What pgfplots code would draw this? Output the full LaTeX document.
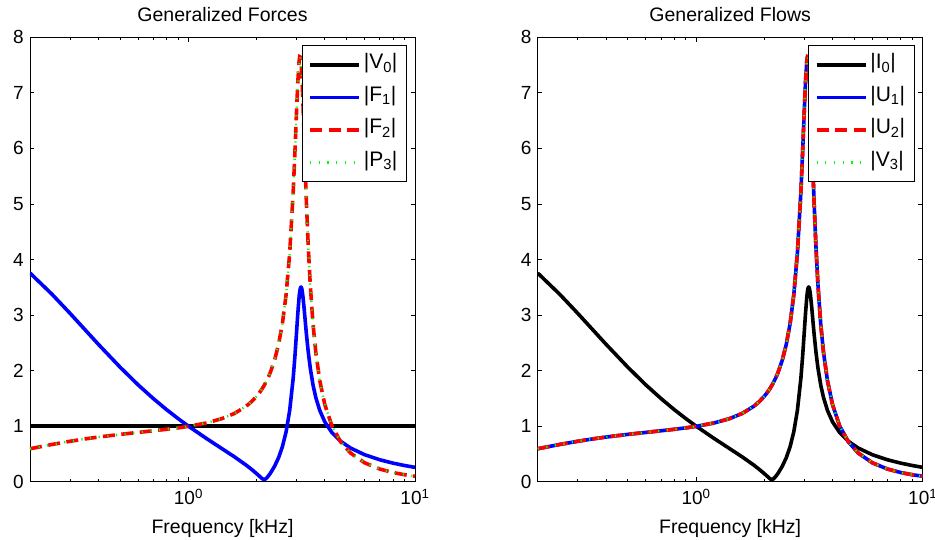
\documentclass[border=0pt]{standalone}
\usepackage{fontspec}
\setmainfont{Liberation Sans}
\usepackage{pgfplots}
\pgfplotsset{compat=1.18}
\usepackage{pgfplotstable}

\definecolor{mblue}{rgb}{0,0,1}
\definecolor{mred}{rgb}{1,0,0}
\definecolor{mgreen}{rgb}{0,1,0}

% f in kHz; F1 = |F1| = |I0|, F2 = |F2| = |P3| = |U1| = |U2| = |V3|
\pgfplotstableread{
f     F1     F2
0.20  3.756  0.593
0.25  3.375  0.670
0.30  3.033  0.727
0.35  2.735  0.770
0.40  2.476  0.803
0.50  2.060  0.852
0.60  1.743  0.887
0.70  1.497  0.917
0.80  1.299  0.943
0.90  1.137  0.969
1.00  1.000  0.996
1.20  0.779  1.057
1.40  0.600  1.133
1.60  0.445  1.230
1.80  0.297  1.360
1.90  0.222  1.441
2.00  0.145  1.538
2.05  0.106  1.593
2.10  0.067  1.653
2.13  0.048  1.693
2.16  0.039  1.734
2.19  0.049  1.778
2.22  0.072  1.826
2.26  0.109  1.893
2.30  0.152  1.968
2.40  0.277  2.187
2.50  0.432  2.471
2.60  0.632  2.850
2.70  0.902  3.373
2.80  1.288  4.121
2.90  1.861  5.212
2.95  2.242  5.906
3.00  2.678  6.652
3.04  3.030  7.198
3.08  3.323  7.570
3.10  3.424  7.650
3.12  3.486  7.644
3.14  3.506  7.553
3.16  3.486  7.383
3.18  3.429  7.149
3.20  3.345  6.868
3.24  3.126  6.232
3.28  2.882  5.586
3.32  2.646  4.990
3.38  2.336  4.231
3.45  2.045  3.540
3.55  1.737  2.827
3.65  1.515  2.328
3.80  1.282  1.818
4.00  1.077  1.388
4.30  0.884  1.004
4.70  0.727  0.717
5.20  0.605  0.514
6.00  0.485  0.339
7.00  0.394  0.227
8.00  0.334  0.165
9.00  0.291  0.125
10.0  0.258  0.099
}\resp

\pgfplotsset{
  matlab/.style={
    scale only axis, width=385pt, height=444.4pt,
    xmin=0.2, xmax=10, ymin=0, ymax=8,
    xtick={1,10}, xticklabels={10\textsuperscript{0},10\textsuperscript{1}},
    minor xtick={0.3,0.4,0.5,0.6,0.7,0.8,0.9,2,3,4,5,6,7,8,9},
    ytick={0,1,2,3,4,5,6,7,8}, minor ytick={},
    tick align=inside, xtick pos=both, ytick pos=both,
    major tick length=4.5pt, minor tick length=2.5pt,
    every tick/.style={black, line width=0.8pt},
    axis line style={line width=0.9pt},
    /pgf/number format/assume math mode=true,
    tick label style={font=\fontsize{19}{22}\selectfont},
    yticklabel style={inner sep=0pt, anchor=east, xshift=-6pt},
    xticklabel style={inner sep=0pt, anchor=north, yshift=-7pt},
    xlabel={Frequency [kHz]},
    xlabel style={font=\fontsize{19.5}{23}\selectfont, at={(axis description cs:0.5,0)}, anchor=base, yshift=-52pt},
    title style={font=\fontsize{19.5}{23}\selectfont, at={(axis description cs:0.5,1)}, anchor=base, yshift=9.3pt},
    legend cell align=left,
    legend style={
      at={(1,1)}, anchor=north east, xshift=-8pt, yshift=-8pt,
      draw=black, line width=1.2pt, fill=white,
      inner xsep=6pt, inner ysep=9pt,
      font=\fontsize{21}{25}\selectfont,
      row sep=12.5pt,
      nodes={inner xsep=3pt, inner ysep=0pt, text height=14pt, text depth=6pt},
    },
    legend image code/.code={\draw[##1] (0pt,0pt) -- (49pt,0pt);},
  },
  solidc/.style={line width=3.6pt, line join=round},
  dashc/.style={mred, line width=3.6pt, dash pattern=on 12pt off 6.5pt},
  dotc/.style={mgreen, line width=2.4pt, dash pattern=on 1.2pt off 7.5pt},
}

\begin{document}
\begin{tikzpicture}
\begin{semilogxaxis}[matlab, at={(30pt,58.3pt)}, anchor=south west, title={Generalized Forces}]
\addplot[black, solidc] coordinates {(0.2,1) (10,1)};
\addlegendentry{|V\textsubscript{0}|}
\addplot[mblue, solidc] table[x=f, y=F1] {\resp};
\addlegendentry{|F\textsubscript{1}|}
\addplot[dashc] table[x=f, y=F2] {\resp};
\addlegendentry{|F\textsubscript{2}|}
\addplot[dotc] table[x=f, y=F2] {\resp};
\addlegendentry{|P\textsubscript{3}|}
\end{semilogxaxis}

\begin{semilogxaxis}[matlab, at={(537.7pt,58.3pt)}, anchor=south west, title={Generalized Flows}]
\addplot[black, solidc] table[x=f, y=F1] {\resp};
\addlegendentry{|I\textsubscript{0}|}
\addplot[mblue, solidc] table[x=f, y=F2] {\resp};
\addlegendentry{|U\textsubscript{1}|}
\addplot[dashc] table[x=f, y=F2] {\resp};
\addlegendentry{|U\textsubscript{2}|}
\addplot[dotc] table[x=f, y=F2] {\resp};
\addlegendentry{|V\textsubscript{3}|}
\end{semilogxaxis}
\pgfresetboundingbox
\path[use as bounding box] (0,0) rectangle (935pt,540pt);
\end{tikzpicture}
\end{document}
